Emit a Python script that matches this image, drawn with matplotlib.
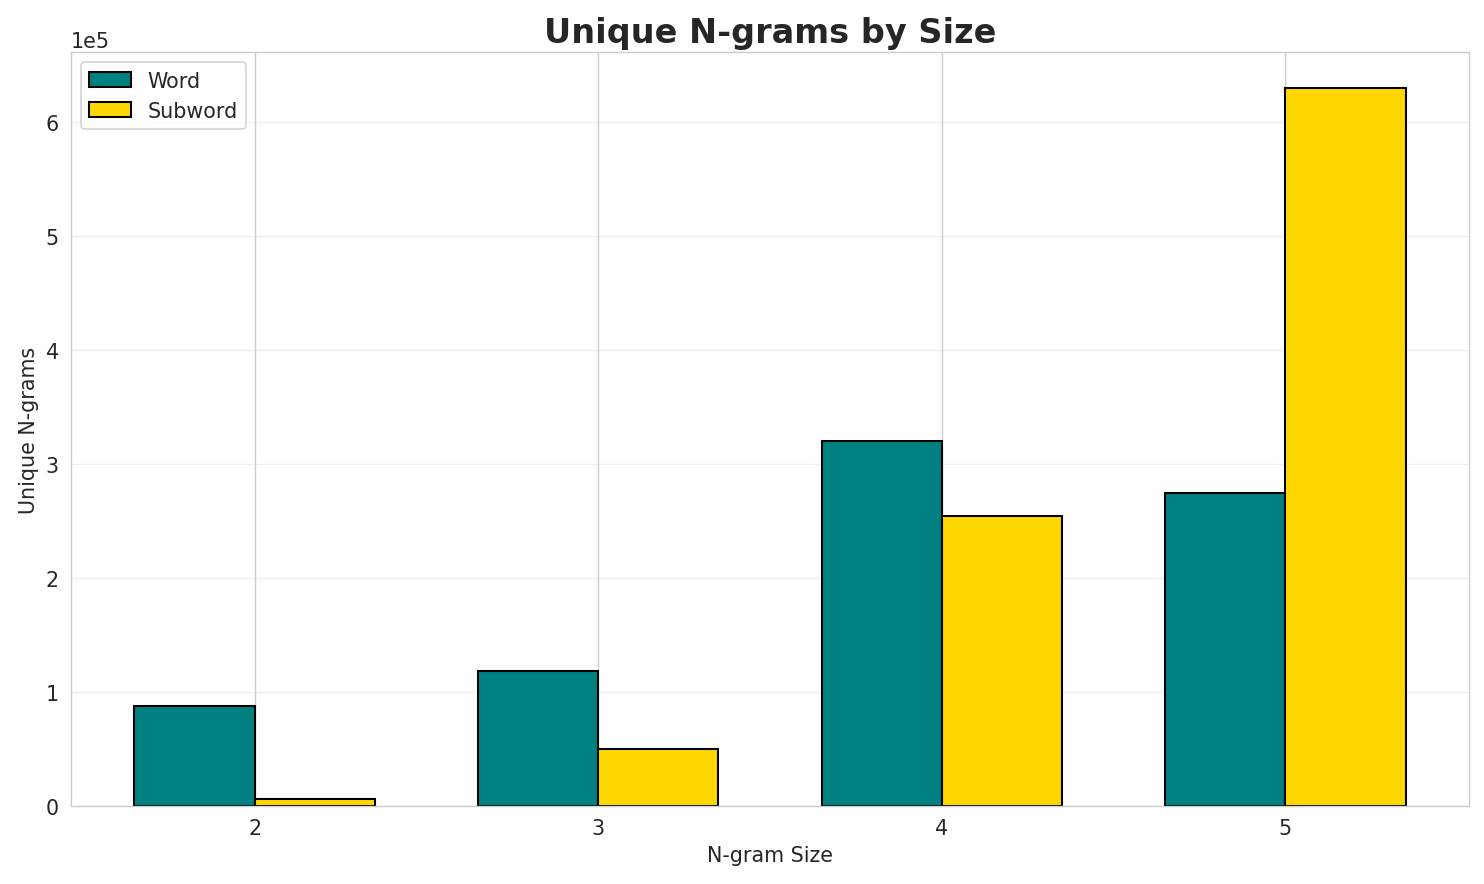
import numpy as np
import matplotlib
matplotlib.use("Agg")
import matplotlib.pyplot as plt
import seaborn as sns

sns.set_style("whitegrid")
plt.rcParams['font.family'] = ['DejaVu Sans']

# n-gram sizes and unique counts
ngram_sizes = [2, 3, 4, 5]
word_counts = [87700, 118400, 320000, 274600]
subword_counts = [6100, 50000, 254400, 629800]

width = 0.35
x = np.array(ngram_sizes)

fig, ax = plt.subplots(figsize=(12, 7.156), dpi=123.67)
ax.bar(x - width, word_counts, width, align='edge', label='Word',
       color='#008080', edgecolor='black', linewidth=1.2)
ax.bar(x, subword_counts, width, align='edge', label='Subword',
       color='#FFD700', edgecolor='black', linewidth=1.2)

ax.set_xticks(ngram_sizes)
ax.set_xlabel('N-gram Size', fontsize=12)
ax.set_ylabel('Unique N-grams', fontsize=12)
ax.set_title('Unique N-grams by Size', fontsize=19.5, fontweight='bold')
ax.tick_params(labelsize=12)
ax.ticklabel_format(axis='y', style='sci', scilimits=(0, 0))
ax.yaxis.get_offset_text().set_fontsize(12)
ax.grid(axis='y', alpha=0.3)
ax.legend(fontsize=12, loc='upper left')

fig.subplots_adjust(left=0.0478, right=0.9899, top=0.9401, bottom=0.0881)
plt.savefig('out.png', dpi=123.67)
